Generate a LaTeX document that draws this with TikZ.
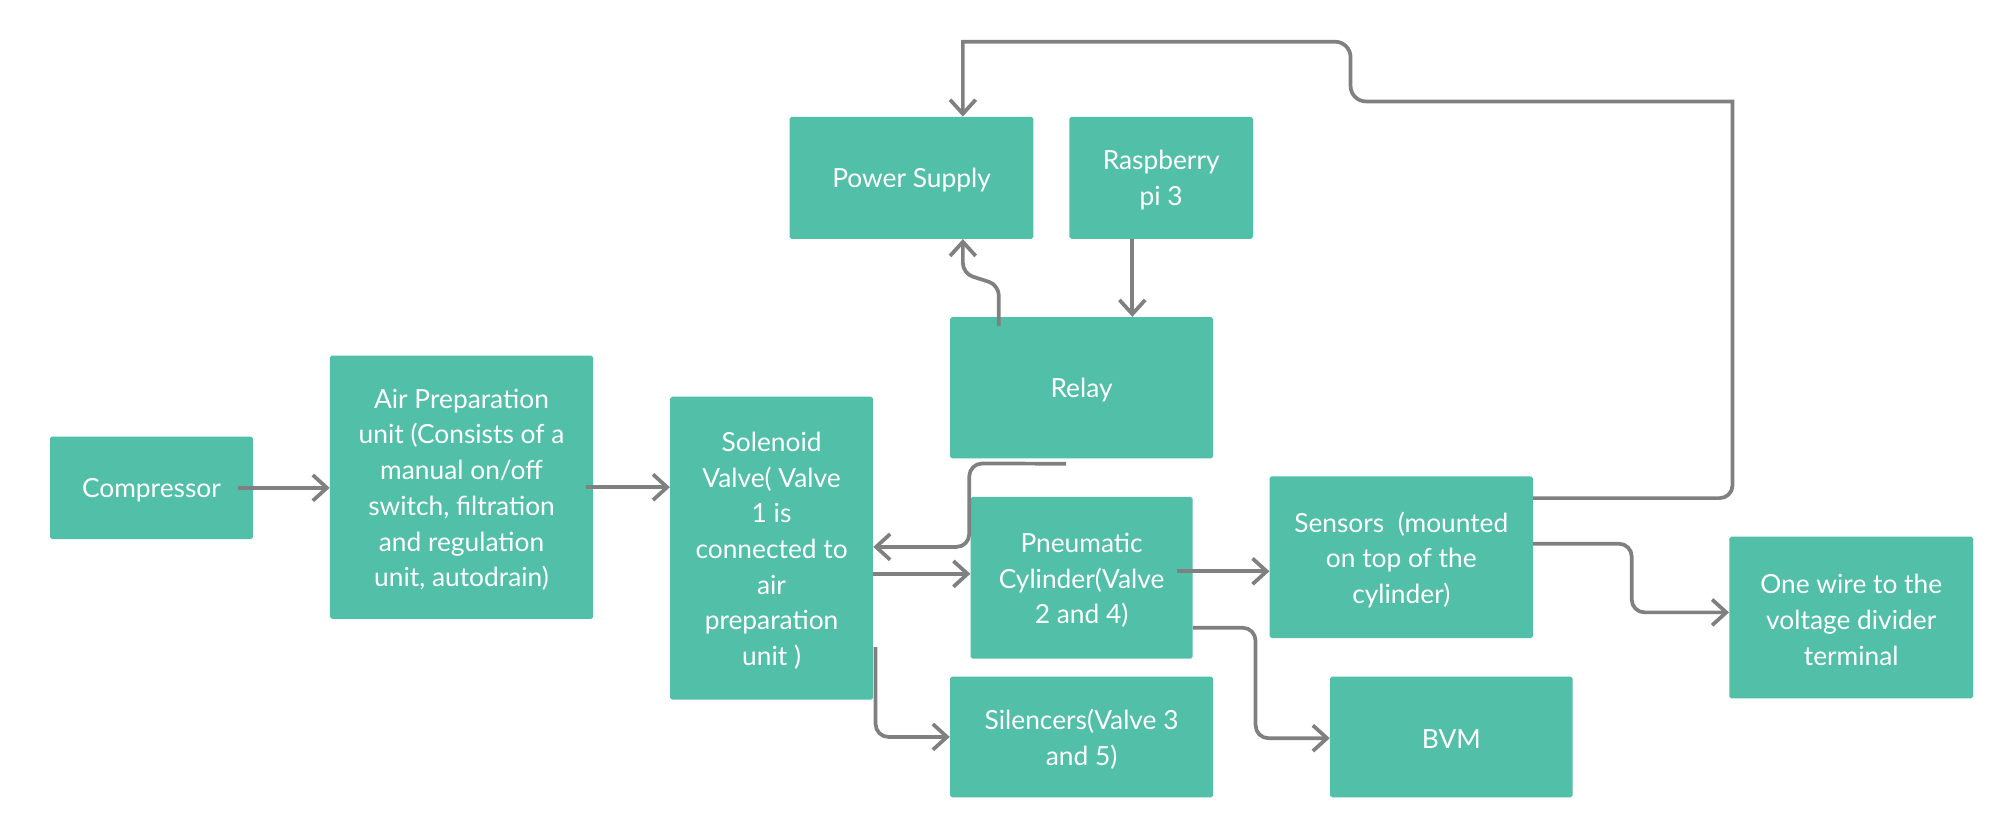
\documentclass[tikz,border=0pt]{standalone}
\usepackage{fontspec}
\setmainfont{Lato}
\usetikzlibrary{arrows.meta,calc}
\definecolor{boxteal}{HTML}{52BFA9}
\definecolor{linegray}{HTML}{808080}
\tikzset{
  blk/.style={fill=boxteal, draw=none, rounded corners=1.5pt, inner sep=0pt},
  blktext/.style={text=white, align=center, font=\fontsize{20.5}{27.8}\selectfont, inner sep=0pt},
  conn/.style={draw=linegray, line width=2.9pt, -{Straight Barb[length=11pt,width=20pt,line width=2.9pt]}}
}
\newcommand{\blkbox}[6]{% name, x1, y1, x2, y2, text
  \node[blk, minimum width={(#4-#2)*1pt}, minimum height={(#5-#3)*1pt}] (#1) at ({(#2+#4)/2},{(#3+#5)/2}) {};
  \node[blktext] (#1-t) at ([yshift=-2pt]#1.center) {#6};}
\begin{document}
\begin{tikzpicture}[x=1pt,y=-1pt]
\useasboundingbox (0,0) rectangle (1568,638);
\fill[white] (0,0) rectangle (1568,638);
\blkbox{comp}{39}{340}{197}{420}{Compressor}
\blkbox{air}{257}{277}{462}{482}{Air Preparation\\unit (Consists of a\\manual on/off\\switch, filtration\\and regulation\\unit, autodrain)}
\blkbox{sol}{522}{309}{680}{545}{Solenoid\\Valve( Valve\\1 is\\connected to\\air\\preparation\\unit )}
\blkbox{psu}{615}{91}{805}{186}{Power Supply}
\blkbox{rasp}{833}{91}{976}{186}{Raspberry\\pi 3}
\blkbox{relay}{740}{247}{945}{357}{Relay}
\blkbox{pneu}{756}{387}{929}{513}{Pneumatic\\Cylinder(Valve\\2 and 4)}
\blkbox{sens}{989}{371}{1194}{497}{Sensors\ \ (mounted\\on top of the\\cylinder)}
\blkbox{sil}{740}{527}{945}{621}{Silencers(Valve 3\\and 5)}
\blkbox{bvm}{1036}{527}{1225}{621}{BVM}
\blkbox{wire}{1347}{418}{1537}{544}{One wire to the\\voltage divider\\terminal}
% connectors
\draw[conn] ([xshift=-12pt]comp.east) -- (comp.east -| air.west);
\draw[conn] ([xshift=-6pt]air.east) -- (air.east -| sol.west);
\draw[conn, rounded corners=10pt] ([shift={(-12pt,-4pt)}]relay.south) -- (755,361) -- (755,426) -- (sol.east |- 0,426);
\draw[conn] (sol.east |- 0,447) -- (pneu.west |- 0,447);
\draw[conn, rounded corners=10pt] (682,504) -- (682,574) -- (sil.west);
\draw[conn] (917,445) -- (sens.west |- 0,445);
\draw[conn, rounded corners=10pt] (pneu.east |- 0,489) -- (978,489) -- (978,575) -- (bvm.west |- 0,575);
\draw[conn, rounded corners=10pt] (sens.east |- 0,423.5) -- (1271,423.5) -- (1271,477) -- (wire.west |- 0,477);
\draw[conn] (sens.east |- 0,388) [rounded corners=10pt] -- (1349.5,388) [sharp corners] -- (1349.5,79) [rounded corners=12pt] -- (1052,79) -- (1052,32.5) [sharp corners] -- (750,32.5) -- (psu.north -| 750,0);
\draw[conn, rounded corners=8pt] (778,254) -- (778,222) -- (750,213) -- (psu.south -| 750,0);
\draw[conn] (rasp.south -| 882,0) -- (relay.north -| 882,0);
\end{tikzpicture}
\end{document}
